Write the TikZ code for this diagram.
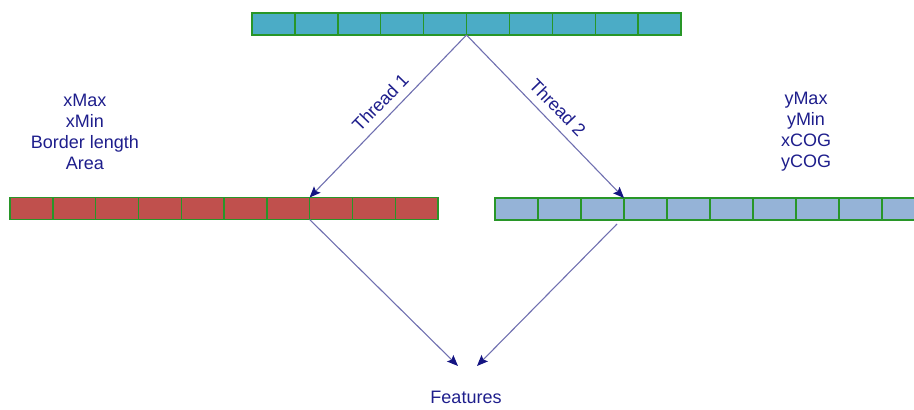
\documentclass[tikz,border=0pt]{standalone}
\usepackage{fontspec}
\setmainfont{Liberation Sans}
\usetikzlibrary{arrows.meta}

\definecolor{cellteal}{RGB}{75,172,198}
\definecolor{cellred}{RGB}{192,80,77}
\definecolor{cellblue}{RGB}{149,179,215}
\definecolor{cellgreen}{RGB}{40,150,40}
\definecolor{linkblue}{RGB}{112,112,176}
\definecolor{headblue}{RGB}{20,20,130}
\definecolor{textblue}{RGB}{30,30,140}

\tikzset{
	cell/.style={draw=cellgreen, line width=1.4pt, minimum width=42.9pt, minimum height=22pt, inner sep=0pt, outer sep=0pt},
	link/.style={draw=linkblue, line width=1.1pt, -{Stealth[length=11pt, width=9pt, inset=2pt, color=headblue]}},
	infotext/.style={text=textblue, font=\fontsize{18}{21}\selectfont, align=center, inner sep=1pt}
}

\begin{document}
\begin{tikzpicture}[x=1pt, y=-1pt]
	\useasboundingbox (0,0) rectangle (914,410);
	\clip (0,0) rectangle (914,410);

	% arrays
	\foreach \i in {1,...,10} {
		\node [cell, fill=cellteal] (top\i) at ({252+(\i-0.5)*42.9}, 24) {};
		\node [cell, fill=cellred, minimum width=42.8pt] (red\i) at ({10+(\i-0.5)*42.8}, 208.5) {};
		\node [cell, fill=cellblue, minimum width=43pt] (blue\i) at ({495+(\i-0.5)*43}, 209) {};
	}

	\node [infotext] (xinfo) at (85, 132) {xMax\\xMin\\Border length\\Area};
	\node [infotext] (yinfo) at (806, 132) {yMax\\yMin\\xCOG\\yCOG};
	\node [infotext] (feat) at (466, 397) {Features};

	\coordinate (featL) at (458, 366);
	\coordinate (featR) at (477, 366);

	\draw [link] (top5.south east) -- node [infotext, sloped, above=7pt, pos=0.48] {Thread 1} (red7.north east);
	\draw [link] (top5.south east) -- node [infotext, sloped, above=7pt, pos=0.51] {Thread 2} (blue3.north east);
	\draw [link] (red7.south east) -- (featL);
	\draw [link] ([xshift=-7pt, yshift=-4pt]blue3.south east) -- (featR);
\end{tikzpicture}
\end{document}
